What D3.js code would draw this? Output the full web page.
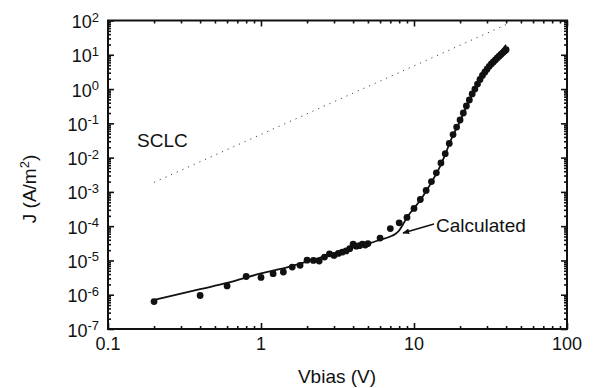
<!DOCTYPE html>
<html>
<head>
<meta charset="utf-8">
<script src="https://cdn.jsdelivr.net/npm/d3@7"></script>
<style>
  html, body { margin: 0; padding: 0; background: #fff; }
  svg { display: block; }
  text { font-family: "Liberation Sans", Arial, Helvetica, sans-serif; fill: #111; }
</style>
</head>
<body>
<svg id="chart" width="593" height="388"></svg>
<script>
// Measured current density vs. bias voltage (filled circles)
const measV = [0.2, 0.4, 0.6, 0.8, 1.0, 1.2, 1.4, 1.6, 1.8, 2.0, 2.2, 2.4, 2.6, 2.8, 3.0,
  3.2, 3.4, 3.6, 3.8, 4.0, 4.2, 4.4, 4.6, 4.8, 5.0, 6, 7, 8, 9, 10, 11, 12, 13, 14, 15,
  16, 17, 18, 19, 20, 21, 22, 23, 24, 25, 26, 27, 28, 29, 30, 31, 32, 33, 34, 35, 36,
  37, 38, 39, 40];
const measJ = [6.3e-7, 9.5e-7, 1.8e-6, 3.4e-6, 3.2e-6, 4.1e-6, 4.6e-6, 6.4e-6, 7.2e-6,
  1.02e-5, 1.0e-5, 9.6e-6, 1.25e-5, 1.55e-5, 1.4e-5, 1.6e-5, 1.75e-5, 1.9e-5, 2.2e-5,
  3.0e-5, 2.6e-5, 2.7e-5, 3.0e-5, 2.8e-5, 3.1e-5, 4.5e-5, 8.5e-5, 1.25e-4, 1.8e-4,
  3.3e-4, 6.0e-4, 1.1e-3, 2.0e-3, 3.6e-3, 7.0e-3, 0.013, 0.026, 0.047, 0.078, 0.125,
  0.2, 0.32, 0.48, 0.72, 1.0, 1.4, 1.9, 2.5, 3.1, 3.8, 4.6, 5.4, 6.2, 7.1, 8.1, 9.1,
  10.2, 11.4, 12.7, 14.0];

// Calculated curve (solid line)
const calcV = [0.2, 0.4, 0.6, 1, 1.5, 2, 2.5, 3, 4, 5, 6, 7, 7.5, 8, 8.5, 9, 9.5, 10,
  11, 12, 13, 14, 15, 16, 18, 20, 22, 24, 26, 28, 30, 32, 34, 36, 38, 40];
const calcJ = [7.0e-7, 1.45e-6, 2.2e-6, 4.2e-6, 6.4e-6, 9.2e-6, 1.25e-5, 1.6e-5, 2.35e-5,
  3.1e-5, 3.95e-5, 5.0e-5, 5.8e-5, 7.5e-5, 1.15e-4, 1.8e-4, 2.5e-4, 3.3e-4, 5.8e-4,
  1.05e-3, 1.9e-3, 3.4e-3, 6.2e-3, 0.0125, 0.045, 0.115, 0.31, 0.72, 1.45, 2.6, 4.0,
  5.8, 8.0, 10.8, 14.5, 19.5];

// Space-charge-limited current reference (J ~ V^2), dotted
const sclcV = [0.2, 40];
const sclcJ = [1.9e-3, 76];

// Axis ticks
const xTicks = [0.1, 1, 10, 100];
const xTickLabels = ["0.1", "1", "10", "100"];
const yExponents = [-7, -6, -5, -4, -3, -2, -1, 0, 1, 2];

const svg = d3.select("#chart");
const plotLeft = 108, plotRight = 567, plotTop = 20.5, plotBottom = 329;

const x = d3.scaleLog().domain([0.1, 100]).range([plotLeft, plotRight]);
const y = d3.scaleLog().domain([1e-7, 1e2]).range([plotBottom, plotTop]);

// minor ticks: 2..9 within every decade
const minorOf = (lo, hi) => {
  const out = [];
  for (let e = lo; e < hi; e++) for (let k = 2; k <= 9; k++) out.push(k * Math.pow(10, e));
  return out;
};
const xMinor = minorOf(-1, 2);
const yMinor = minorOf(-7, 2);
const yMajor = yExponents.map(e => Math.pow(10, e));

const axisG = svg.append("g").attr("class", "axes");
function addAxis(axisFn, scale, values, size, transform) {
  const g = axisG.append("g")
    .attr("transform", transform)
    .call(axisFn(scale).tickValues(values).tickSize(size).tickFormat(""));
  g.select(".domain").remove();
  g.selectAll(".tick line").attr("stroke", "#111").attr("stroke-width", 1.6);
}
addAxis(d3.axisBottom, x, xTicks, -6, `translate(0,${plotBottom})`);
addAxis(d3.axisBottom, x, xMinor, -3, `translate(0,${plotBottom})`);
addAxis(d3.axisTop, x, xTicks, -6, `translate(0,${plotTop})`);
addAxis(d3.axisTop, x, xMinor, -3, `translate(0,${plotTop})`);
addAxis(d3.axisLeft, y, yMajor, -6, `translate(${plotLeft},0)`);
addAxis(d3.axisLeft, y, yMinor, -3, `translate(${plotLeft},0)`);
addAxis(d3.axisRight, y, yMajor, -6, `translate(${plotRight},0)`);
addAxis(d3.axisRight, y, yMinor, -3, `translate(${plotRight},0)`);

// frame
svg.append("rect")
  .attr("x", plotLeft).attr("y", plotTop)
  .attr("width", plotRight - plotLeft).attr("height", plotBottom - plotTop)
  .attr("fill", "none").attr("stroke", "#111").attr("stroke-width", 2);

// x tick labels
svg.append("g").selectAll("text")
  .data(xTicks)
  .join("text")
  .attr("x", d => x(d))
  .attr("y", plotBottom + 20.5)
  .attr("text-anchor", "middle")
  .attr("font-size", 18)
  .text((d, i) => xTickLabels[i]);

// y tick labels as powers of ten
const yl = svg.append("g").selectAll("text")
  .data(yExponents)
  .join("text")
  .attr("x", 99)
  .attr("y", d => y(Math.pow(10, d)) + 7.5)
  .attr("text-anchor", "end")
  .attr("font-size", 18);
yl.append("tspan").text("10");
yl.append("tspan").attr("dy", -6.5).attr("font-size", 13).text(d => String(d));

// axis titles
svg.append("text")
  .attr("x", 337).attr("y", 383)
  .attr("text-anchor", "middle")
  .attr("font-size", 19)
  .text("Vbias (V)");

const yTitle = svg.append("text")
  .attr("transform", "translate(36,189) rotate(-90)")
  .attr("text-anchor", "middle")
  .attr("font-size", 19);
yTitle.append("tspan").text("J (A/m");
yTitle.append("tspan").attr("dy", -7).attr("font-size", 13).text("2");
yTitle.append("tspan").attr("dy", 7).text(")");

// SCLC reference line
const sclcData = sclcV.map((v, i) => [v, sclcJ[i]]);
svg.append("path")
  .datum(sclcData)
  .attr("fill", "none")
  .attr("stroke", "#444")
  .attr("stroke-width", 1)
  .attr("stroke-dasharray", "1.2 5")
  .attr("d", d3.line().x(d => x(d[0])).y(d => y(d[1])));

svg.append("text")
  .attr("x", 137).attr("y", 147)
  .attr("font-size", 19)
  .text("SCLC");

// measured points
svg.append("g").selectAll("circle")
  .data(measV.map((v, i) => [v, measJ[i]]))
  .join("circle")
  .attr("cx", d => x(d[0]))
  .attr("cy", d => y(d[1]))
  .attr("r", 3.4)
  .attr("fill", "#111");

// calculated curve
const calcData = calcV.map((v, i) => [v, calcJ[i]]);
svg.append("path")
  .datum(calcData)
  .attr("fill", "none")
  .attr("stroke", "#111")
  .attr("stroke-width", 1.8)
  .attr("d", d3.line().curve(d3.curveMonotoneX).x(d => x(d[0])).y(d => y(d[1])));

// callout for the calculated curve
const defs = svg.append("defs");
defs.append("marker")
  .attr("id", "arrow")
  .attr("viewBox", "0 0 10 10")
  .attr("refX", 9).attr("refY", 5)
  .attr("markerWidth", 7).attr("markerHeight", 7)
  .attr("markerUnits", "userSpaceOnUse")
  .attr("orient", "auto")
  .append("path").attr("d", "M0,1 L10,5 L0,9 Z").attr("fill", "#111");

svg.append("line")
  .attr("x1", 434).attr("y1", 224)
  .attr("x2", 403).attr("y2", 233)
  .attr("stroke", "#111").attr("stroke-width", 1.4)
  .attr("marker-end", "url(#arrow)");

svg.append("text")
  .attr("x", 436).attr("y", 231.5)
  .attr("font-size", 19)
  .text("Calculated");
</script>
</body>
</html>
